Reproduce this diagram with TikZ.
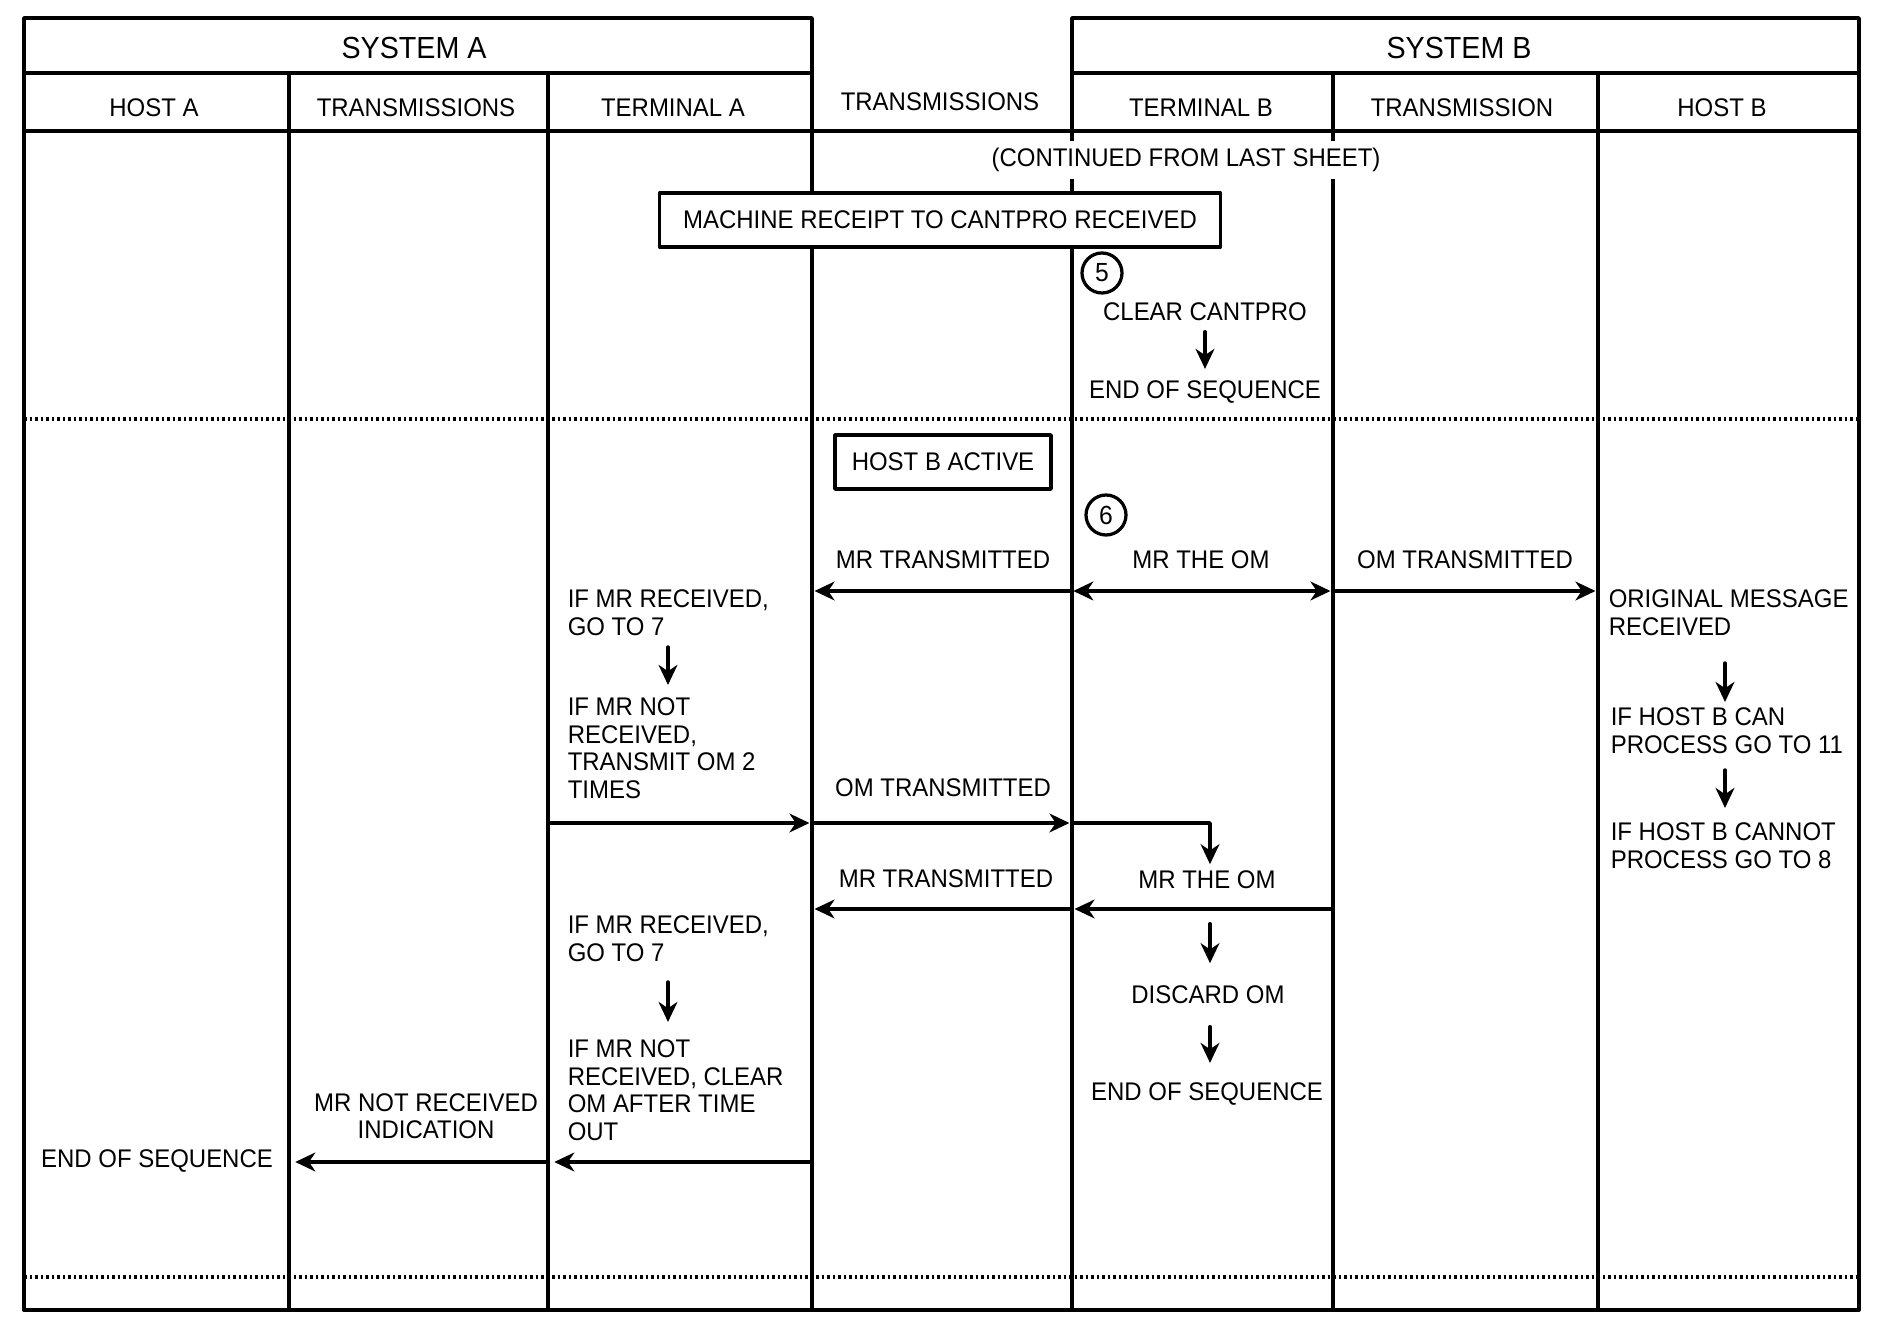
\documentclass[tikz,border=0pt]{standalone}
\usepackage{fontspec}
\setmainfont[FakeStretch=0.94]{Liberation Sans}
\usetikzlibrary{arrows.meta,calc}

\begin{document}
\begin{tikzpicture}[>={Stealth[length=8pt,width=7.5pt,inset=2.5pt]},
        x=0.4pt, y=-0.4pt, line join=round, line cap=round, line width=1.4pt,
        lbl/.style={font=\fontsize{10.2}{11}\selectfont, inner sep=2pt},
        blk/.style={lbl, align=left, anchor=north west},
        ttl/.style={font=\fontsize{12.2}{14}\selectfont},
        bx/.style={lbl, draw, fill=white, line width=1.5pt},
        num/.style={draw, circle, minimum size=16pt, inner sep=0pt, line width=1.3pt, font=\fontsize{10.5}{11}\selectfont},
        dots/.style={line width=1.6pt, line cap=butt, dash pattern=on 1pt off 1.2pt},
        msg/.style={shorten >=1pt, shorten <=0.5pt}]
    \useasboundingbox (0,0) rectangle (1881,1317);
    % frame and lanes
    \draw (24,1310) -- (24,18) -- (812,18) -- (812,1310);
    \draw (1072,1310) -- (1072,18) -- (1859,18) -- (1859,1310) -- cycle;
    \draw (24,1310) -- (1859,1310);
    \draw (24,73) -- (812,73) (1072,73) -- (1859,73) (24,131) -- (1859,131);
    \foreach \x in {289,548,1333,1598} \draw (\x,73) -- (\x,1310);
    \draw[dots] (24,419) -- (1859,419) (24,1277) -- (1859,1277);
    \foreach \x/\n in {289/c1,548/c2,812/c3,1072/c4,1333/c5,1598/c6}
        \coordinate (\n) at (\x,1310);
    \coordinate (r1) at (0,591);
    \coordinate (r2) at (0,823);
    \coordinate (r3) at (0,909);
    \coordinate (r4) at (0,1162);

    \node[ttl] (sysA) at (414,48) {SYSTEM A};
    \node[ttl] (sysB) at (1459,48) {SYSTEM B};
    \node[lbl] (hostA) at (154,108) {HOST A};
    \node[lbl] (trnA) at (416,108) {TRANSMISSIONS};
    \node[lbl] (termA) at (673,108) {TERMINAL A};
    \node[lbl] (trnM) at (940,102) {TRANSMISSIONS};
    \node[lbl] (termB) at (1201,108) {TERMINAL B};
    \node[lbl] (trnB) at (1462,108) {TRANSMISSION};
    \node[lbl] (hostB) at (1722,108) {HOST B};

    \node[lbl, fill=white, inner ysep=2.8pt] (cont) at (1186,160) {(CONTINUED FROM LAST SHEET)};
    \node[bx, minimum width=224.4pt, minimum height=21.6pt] (mrcpt) at (940,220) {MACHINE RECEIPT TO CANTPRO RECEIVED};
    \node[num] (n5) at (1102,273) {5};
    \node[lbl] (clr) at (1205,312) {CLEAR CANTPRO};
    \node[lbl] (eos1) at (1205,392) {END OF SEQUENCE};
    \draw[->] ($(clr.south)+(0,4)$) -- ($(eos1.north)+(0,-5)$);

    \node[bx, minimum width=86.4pt, minimum height=21.6pt] (hba) at (943,462) {HOST B ACTIVE};
    \node[num] (n6) at (1106,515) {6};
    \node[lbl] (mrt1) at (943,560) {MR TRANSMITTED};
    \node[lbl] (mrom1) at (1201,560) {MR THE OM};
    \node[lbl] (omt1) at (1465,560) {OM TRANSMITTED};
    \draw[msg, ->] (c4 |- r1) -- (c3 |- r1);
    \draw[msg, <->] (c4 |- r1) -- (c5 |- r1);
    \draw[msg, ->] (c5 |- r1) -- (c6 |- r1);

    \node[blk] (omr) at (1602,583) {ORIGINAL MESSAGE\\RECEIVED};
    \node[blk] (hbcan) at (1604,701) {IF HOST B CAN\\PROCESS GO TO 11};
    \node[blk] (hbnot) at (1604,816) {IF HOST B CANNOT\\PROCESS GO TO 8};
    \draw[->] ($(omr.south west)+(123,21)$) -- ($(hbcan.north west)+(121,1)$);
    \draw[->] ($(hbcan.south west)+(121,10)$) -- ($(hbnot.north west)+(121,-8)$);

    \node[blk] (rcv1) at (561,583) {IF MR RECEIVED,\\GO TO 7};
    \node[blk] (nrcv1) at (561,691) {IF MR NOT\\RECEIVED,\\TRANSMIT OM 2\\TIMES};
    \draw[->] ($(rcv1.south west)+(107,5)$) -- ($(nrcv1.north west)+(107,-6)$);

    \node[lbl] (omt2) at (943,788) {OM TRANSMITTED};
    \node[lbl] (mrt2) at (946,879) {MR TRANSMITTED};
    \node[lbl] (mrom2) at (1207,880) {MR THE OM};
    \draw[msg, ->] (c2 |- r2) -- (c3 |- r2);
    \draw[msg, ->] (c3 |- r2) -- (c4 |- r2);
    \draw[->] (c4 |- r2) -| ($(mrom2.north)+(3,0)$);
    \draw[msg, ->] (c5 |- r3) -- (c4 |- r3);
    \draw[msg, ->] (c4 |- r3) -- (c3 |- r3);

    \node[lbl] (disc) at (1208,995) {DISCARD OM};
    \node[lbl] (eos2) at (1207,1094) {END OF SEQUENCE};
    \draw[->] ($(mrom2.south)+(3,28)$) -- ($(disc.north)+(2,-16)$);
    \draw[->] ($(disc.south)+(2,16)$) -- ($(eos2.north)+(3,-13)$);

    \node[blk] (rcv2) at (561,909) {IF MR RECEIVED,\\GO TO 7};
    \node[blk] (nrcv2) at (561,1033) {IF MR NOT\\RECEIVED, CLEAR\\OM AFTER TIME\\OUT};
    \draw[->] ($(rcv2.south west)+(107,14)$) -- ($(nrcv2.north west)+(107,-11)$);

    \node[lbl, align=center] (mrni) at (426,1116) {MR NOT RECEIVED\\INDICATION};
    \node[lbl] (eosA) at (157,1161) {END OF SEQUENCE};
    \draw[msg, ->, shorten >=2.5pt] (c3 |- r4) -- (c2 |- r4);
    \draw[msg, ->, shorten >=2.5pt] (c2 |- r4) -- (c1 |- r4);
\end{tikzpicture}
\end{document}
